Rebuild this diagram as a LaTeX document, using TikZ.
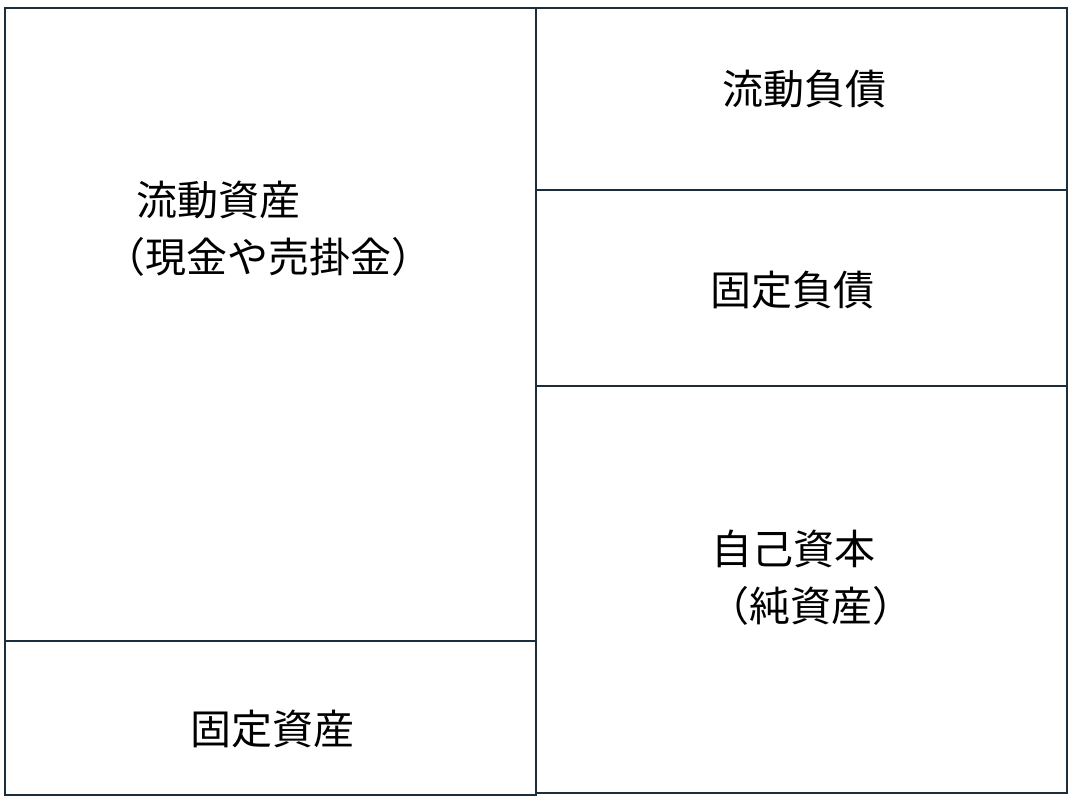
\documentclass[tikz,border=0pt]{standalone}
\usepackage{fontspec}
\setmainfont{Noto Sans CJK JP}
\definecolor{frame}{RGB}{28,45,60}
\begin{document}
\begin{tikzpicture}[x=1pt,y=-1pt,
  box/.style={draw=frame,line width=2.2pt},
  lbl/.style={inner sep=0pt,font=\fontsize{41}{49}\selectfont,text=black}]
\useasboundingbox[fill=white] (0,0) rectangle (1078,806);
% left column
\draw[box] (5,8) rectangle (536,641);
\draw[box] (5,641) rectangle (536,795);
% right column
\draw[box] (536,8) rectangle (1067,190);
\draw[box] (536,190) rectangle (1067,386);
\draw[box] (536,386) rectangle (1067,793);
% labels
\node[lbl] (ca1) at (218,200) {流動資産};
\node[lbl] (ca2) at (268,257) {（現金や売掛金）};
\node[lbl] (fa) at (272,729) {固定資産};
\node[lbl] (cl) at (804,89) {流動負債};
\node[lbl] (fl) at (792,290) {固定負債};
\node[lbl] (eq1) at (793,549) {自己資本};
\node[lbl] (eq2) at (811,606) {（純資産）};
\end{tikzpicture}
\end{document}
